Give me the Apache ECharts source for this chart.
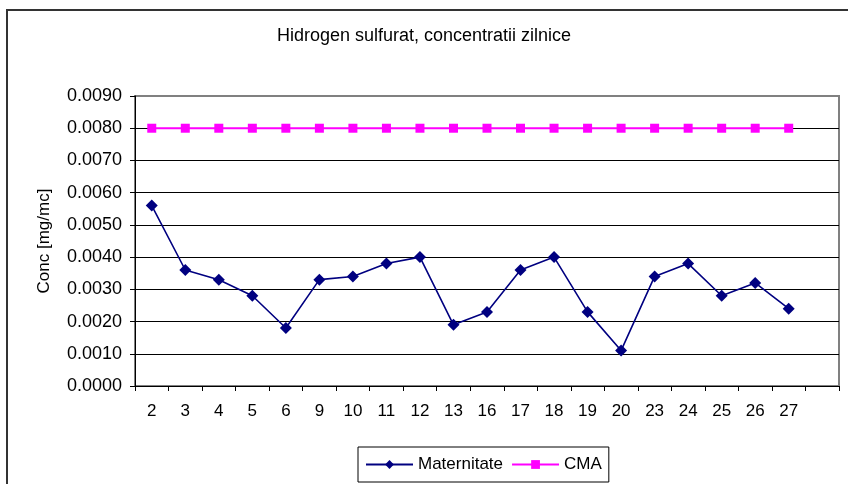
<!DOCTYPE html>
<html>
<head>
<meta charset="utf-8">
<script src="https://cdn.jsdelivr.net/npm/echarts@6/dist/echarts.min.js"></script>
<style>
  html, body { margin: 0; padding: 0; background: #fff; }
  #chart { width: 848px; height: 484px; }
</style>
</head>
<body>
<div id="chart"></div>
<script>
const days = ['2', '3', '4', '5', '6', '9', '10', '11', '12', '13', '16', '17', '18', '19', '20', '23', '24', '25', '26', '27', ''];
const maternitate = [0.0056, 0.0036, 0.0033, 0.0028, 0.0018, 0.0033, 0.0034, 0.0038, 0.0040, 0.0019,
  0.0023, 0.0036, 0.0040, 0.0023, 0.0011, 0.0034, 0.0038, 0.0028, 0.0032, 0.0024];
const cma = [0.008, 0.008, 0.008, 0.008, 0.008, 0.008, 0.008, 0.008, 0.008, 0.008,
  0.008, 0.008, 0.008, 0.008, 0.008, 0.008, 0.008, 0.008, 0.008, 0.008];

const font = 'Liberation Sans, Arial, sans-serif';
const chart = echarts.init(document.getElementById('chart'));

// grid lines are black, the top one doubles as the gray plot border
const gridColors = ['#000', '#000', '#000', '#000', '#000', '#000', '#000', '#000', '#000', '#808080'];

chart.setOption({
  animation: false,
  backgroundColor: '#fff',
  textStyle: { fontFamily: font },
  graphic: [
    {
      type: 'rect',
      shape: { x: 7, y: 10, width: 900, height: 600 },
      style: { fill: 'none', stroke: '#333', lineWidth: 2 },
      silent: true
    }
  ],
  title: {
    text: 'Hidrogen sulfurat, concentratii zilnice',
    left: 'center',
    top: 27,
    padding: 0,
    textStyle: { fontSize: 18, fontWeight: 'normal', color: '#000', fontFamily: font }
  },
  legend: {
    left: 358,
    top: 447,
    padding: [9, 7, 9, 7],
    itemWidth: 47,
    itemHeight: 11,
    itemGap: 8,
    borderColor: '#000',
    borderWidth: 1,
    textStyle: { fontSize: 17, color: '#000', fontFamily: font },
    data: ['Maternitate', 'CMA']
  },
  grid: {
    left: 135,
    right: 9,
    top: 96,
    bottom: 98,
    show: true,
    borderColor: '#808080',
    borderWidth: 2,
    containLabel: false
  },
  xAxis: {
    type: 'category',
    data: days,
    boundaryGap: true,
    axisLine: { lineStyle: { color: '#000', width: 1 } },
    axisTick: { show: true, alignWithLabel: false, length: 5, lineStyle: { color: '#000' }, interval: 0 },
    axisLabel: { interval: 0, margin: 17, fontSize: 17, color: '#000', fontFamily: font },
    splitLine: { show: false }
  },
  yAxis: {
    type: 'value',
    min: 0,
    max: 0.009,
    interval: 0.001,
    name: 'Conc [mg/mc]',
    nameLocation: 'middle',
    nameGap: 82,
    nameTextStyle: { fontSize: 17, color: '#000', fontFamily: font },
    axisLine: { show: true, lineStyle: { color: '#000', width: 1 } },
    axisTick: { show: true, length: 5, lineStyle: { color: '#000' } },
    axisLabel: {
      margin: 13,
      fontSize: 18,
      color: '#000',
      fontFamily: font,
      formatter: v => v.toFixed(4)
    },
    splitLine: { show: true, lineStyle: { color: gridColors, width: 1 } }
  },
  series: [
    {
      name: 'Maternitate',
      type: 'line',
      data: maternitate,
      symbol: 'diamond',
      symbolSize: 12,
      color: '#000080',
      lineStyle: { color: '#000080', width: 1.6 },
      itemStyle: { color: '#000080' }
    },
    {
      name: 'CMA',
      type: 'line',
      data: cma,
      symbol: 'rect',
      symbolSize: 9,
      color: '#ff00ff',
      lineStyle: { color: '#ff00ff', width: 2 },
      itemStyle: { color: '#ff00ff' }
    }
  ]
});
</script>
</body>
</html>
